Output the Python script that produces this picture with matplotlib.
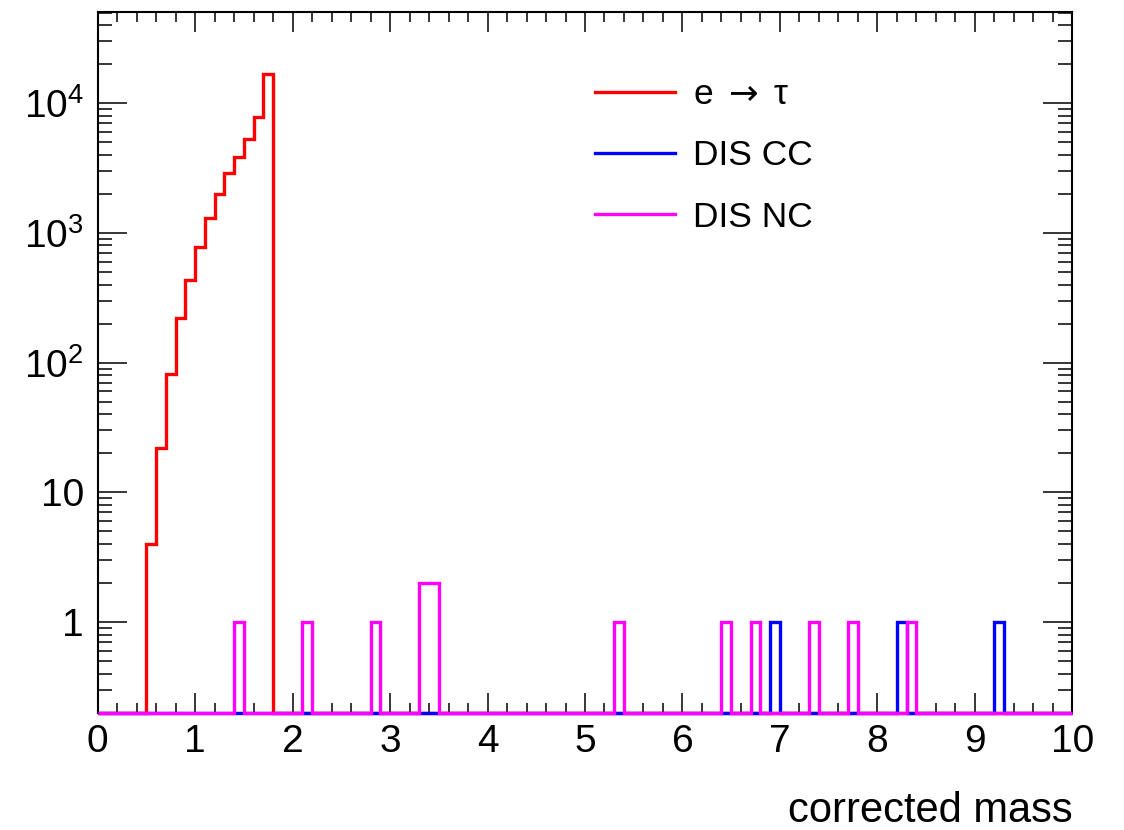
import numpy as np
import matplotlib
matplotlib.use("Agg")
import matplotlib.pyplot as plt
from matplotlib.ticker import MultipleLocator, FixedLocator, FixedFormatter, LogLocator, NullFormatter

plt.rcParams['font.family'] = ['Liberation Sans', 'DejaVu Sans']
plt.rcParams['mathtext.fontset'] = 'custom'
plt.rcParams['mathtext.rm'] = 'Liberation Sans'
plt.rcParams['mathtext.it'] = 'Liberation Sans:italic'
plt.rcParams['mathtext.sf'] = 'DejaVu Sans'

# ---- data ----
bin_edges = np.round(np.arange(0, 10.0001, 0.1), 1)  # 100 bins of width 0.1

etau_bins = [0.5, 0.6, 0.7, 0.8, 0.9, 1.0, 1.1, 1.2, 1.3, 1.4, 1.5, 1.6, 1.7]
etau_counts = [4, 22, 81, 222, 437, 772, 1302, 1992, 2873, 3873, 5340, 7872, 16760]

discc_bins = [6.9, 8.2, 9.2]
discc_counts = [1, 1, 1]

disnc_bins = [1.4, 2.1, 2.8, 3.3, 3.4, 5.3, 6.4, 6.7, 7.3, 7.7, 8.3]
disnc_counts = [1, 1, 1, 2, 2, 1, 1, 1, 1, 1, 1]

series_names = [r"e $\mathsf{\rightarrow}$ \u03c4".replace("\\u03c4", "\u03c4"), "DIS CC", "DIS NC"]
series_colors = ["#ff0000", "#0000ff", "#ff00ff"]

ytick_values = [1, 10, 100, 1000, 10000]
ytick_labels = ["1", "10", r"$\mathregular{10^{2}}$", r"$\mathregular{10^{3}}$", r"$\mathregular{10^{4}}$"]
x_label = "corrected mass"

ymin, ymax = 0.2, 5.02e4


def fill_hist(bins, counts):
    h = np.zeros(len(bin_edges) - 1)
    for b, c in zip(bins, counts):
        idx = int(round(b / 0.1))
        h[idx] += c
    return h


hists = [fill_hist(etau_bins, etau_counts),
         fill_hist(discc_bins, discc_counts),
         fill_hist(disnc_bins, disnc_counts)]

W, H = 1124, 830
fig = plt.figure(figsize=(W / 100, H / 100), dpi=100)
L, R, T, B = 97.7, 1072.3, 12.3, 712.7
ax = fig.add_axes([L / W, 1 - B / H, (R - L) / W, (B - T) / H])

ax.set_yscale('log')
ax.set_xlim(0, 10)
ax.set_ylim(ymin, ymax)

for i, (h, name, col) in enumerate(zip(hists, series_names, series_colors)):
    ax.stairs(np.maximum(h, ymin), bin_edges, color=col, lw=2.4, baseline=None,
              label=name, clip_on=False, zorder=3 + i)

for s in ax.spines.values():
    s.set_linewidth(1.5)
    s.set_zorder(2.5)

ax.xaxis.set_major_locator(MultipleLocator(1))
ax.xaxis.set_minor_locator(MultipleLocator(0.2))
ax.yaxis.set_major_locator(FixedLocator(ytick_values))
ax.yaxis.set_major_formatter(FixedFormatter(ytick_labels))
ax.yaxis.set_minor_locator(LogLocator(base=10, subs=np.arange(2, 10), numticks=20))
ax.yaxis.set_minor_formatter(NullFormatter())

ax.tick_params(which='both', direction='in', top=True, right=True, width=1.1, labelsize=28)
ax.xaxis.set_tick_params(which='major', length=14.4, pad=8)
ax.xaxis.set_tick_params(which='minor', length=7.2)
ax.yaxis.set_tick_params(which='major', length=21, pad=10)
ax.yaxis.set_tick_params(which='minor', length=10.4)

ax.set_xlabel(x_label, loc='right', fontsize=30)
ax.xaxis.label.set_verticalalignment('baseline')
ax.xaxis.set_label_coords(1.0, -(821.5 - B) / (B - T))

fs = 25.5
fpx = fs * 100 / 72
leg = ax.legend(loc='upper left', bbox_to_anchor=(595 / W, 1 - 78 / H),
                bbox_transform=fig.transFigure, frameon=False, fontsize=fs,
                handlelength=80 / fpx, handletextpad=18 / fpx,
                labelspacing=0.8, borderpad=0, borderaxespad=0)
for line in leg.get_lines():
    line.set_linewidth(2.4)

fig.savefig("out.png", dpi=100)
